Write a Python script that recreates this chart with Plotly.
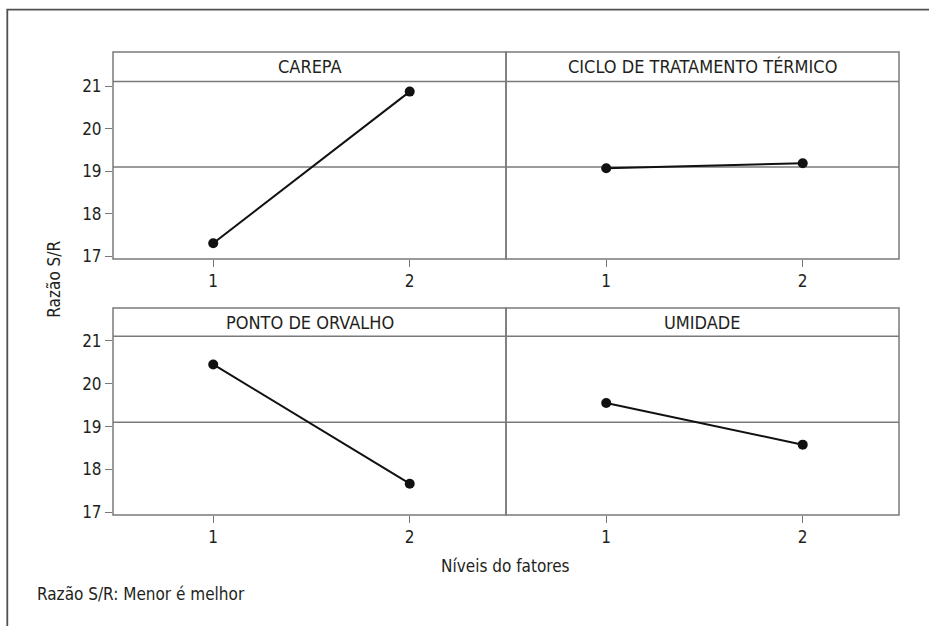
import plotly.graph_objects as go

# ---- data ----
factors = ["CAREPA", "CICLO DE TRATAMENTO TÉRMICO", "PONTO DE ORVALHO", "UMIDADE"]
levels = [1, 2]
sn_carepa = [17.31, 20.87]
sn_ciclo = [19.07, 19.19]
sn_ponto = [20.45, 17.67]
sn_umidade = [19.55, 18.58]
overall_mean = 19.1
y_ticks = [17, 18, 19, 20, 21]
x_ticks = [1, 2]
y_title = "Razão S/R"
x_title = "Níveis do fatores"
footnote = "Razão S/R: Menor é melhor"

series = [sn_carepa, sn_ciclo, sn_ponto, sn_umidade]

W, H = 929, 626
FONT = "Liberation Sans Narrow, Arial Narrow, DejaVu Sans Condensed, sans-serif"
TXT = "#231f20"
FRAME = "#7a7a7a"

def px(x):
    return x / W

def py(y):
    return 1 - y / H

col_dom = [[px(113), px(506)], [px(506), px(899)]]
row_plot = [[py(259), py(78)], [py(520), py(337.7)]]
row_strip = [[py(78), py(48)], [py(337.7), py(309)]]

fig = go.Figure()
layout = {}
shapes = []
annotations = []

for i, (name, vals) in enumerate(zip(factors, series)):
    r, c = divmod(i, 2)
    n = i + 1
    xa = "xaxis" if n == 1 else f"xaxis{n}"
    ya = "yaxis" if n == 1 else f"yaxis{n}"
    xr = "x" if n == 1 else f"x{n}"
    yr = "y" if n == 1 else f"y{n}"
    fig.add_trace(go.Scatter(
        x=levels, y=vals, xaxis=xr, yaxis=yr, mode="lines+markers",
        line=dict(color="#111111", width=2),
        marker=dict(color="#111111", size=10),
        showlegend=False, hoverinfo="x+y"))
    layout[xa] = dict(
        domain=col_dom[c], anchor=yr, range=[0.49, 2.49],
        tickvals=x_ticks, ticktext=[str(t) for t in x_ticks],
        ticks="outside", ticklen=7, tickcolor=FRAME, tickwidth=1,
        showline=False, showgrid=False, zeroline=False,
        tickfont=dict(family=FONT, size=17, color=TXT), fixedrange=True)
    layout[ya] = dict(
        domain=row_plot[r], anchor=xr, range=[16.94, 21.107],
        tickvals=y_ticks if c == 0 else [],
        ticks="outside" if c == 0 else "", ticklen=7, tickcolor=FRAME, tickwidth=1,
        showticklabels=(c == 0),
        showline=False, showgrid=False, zeroline=False,
        tickfont=dict(family=FONT, size=17, color=TXT), fixedrange=True)
    # mean reference line
    shapes.append(dict(type="line", xref=f"{xr} domain", yref=yr,
                       x0=0, x1=1, y0=overall_mean, y1=overall_mean,
                       line=dict(color=FRAME, width=1.5), layer="below"))
    # panel frame (plot area + strip)
    shapes.append(dict(type="rect", xref="paper", yref="paper",
                       x0=col_dom[c][0], x1=col_dom[c][1],
                       y0=row_plot[r][0], y1=row_strip[r][1],
                       line=dict(color=FRAME, width=1.5)))
    shapes.append(dict(type="line", xref="paper", yref="paper",
                       x0=col_dom[c][0], x1=col_dom[c][1],
                       y0=row_strip[r][0], y1=row_strip[r][0],
                       line=dict(color=FRAME, width=1.5)))
    annotations.append(dict(text=name, xref="paper", yref="paper",
                            x=(col_dom[c][0] + col_dom[c][1]) / 2,
                            y=(row_strip[r][0] + row_strip[r][1]) / 2,
                            xanchor="center", yanchor="middle", showarrow=False,
                            font=dict(family=FONT, size=18, color=TXT)))

# outer frame (cropped box)
shapes.append(dict(type="path", xref="paper", yref="paper",
                   path=f"M {px(7.3)},-0.05 L {px(7.3)},{py(4.7)} L 1.05,{py(4.7)}",
                   line=dict(color="#505050", width=1.8)))

annotations.append(dict(text=y_title, xref="paper", yref="paper",
                        x=px(54), y=py(280), textangle=-90,
                        xanchor="center", yanchor="middle", showarrow=False,
                        font=dict(family=FONT, size=17, color=TXT)))
annotations.append(dict(text=x_title, xref="paper", yref="paper",
                        x=px(505), y=py(572), xanchor="center", yanchor="middle",
                        showarrow=False, font=dict(family=FONT, size=17, color=TXT)))
annotations.append(dict(text=footnote, xref="paper", yref="paper",
                        x=px(35), y=py(601), xanchor="left", yanchor="middle",
                        showarrow=False, font=dict(family=FONT, size=17, color=TXT)))

fig.update_layout(**layout)
fig.update_layout(
    width=W, height=H, margin=dict(l=0, r=0, t=0, b=0),
    paper_bgcolor="white", plot_bgcolor="white",
    shapes=shapes, annotations=annotations,
    font=dict(family=FONT, color=TXT))

fig.write_html("out.html", config={"displayModeBar": False},
               post_script="document.body.style.margin='0';document.body.style.overflow='hidden';")
